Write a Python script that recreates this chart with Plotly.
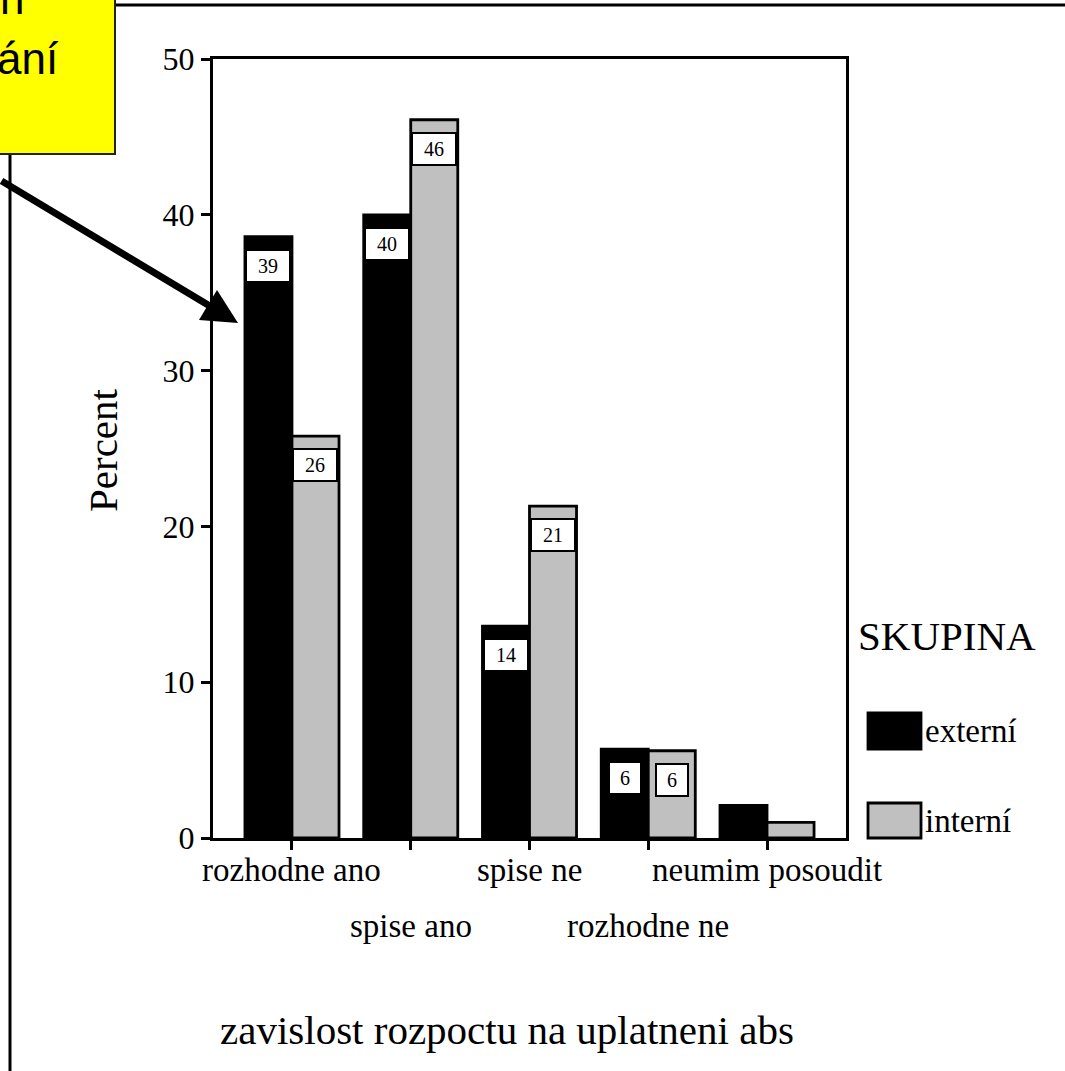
import plotly.graph_objects as go

# Response categories and group percentages
categories = ["rozhodne ano", "spise ano", "spise ne", "rozhodne ne", "neumim posoudit"]
groups = ["externí", "interní"]
externi = [38.6, 40.0, 13.6, 5.7, 2.1]
interni = [25.8, 46.1, 21.3, 5.6, 1.0]
labelled = [[True, True, True, True, False], [True, True, True, True, False]]
y_ticks = [0, 10, 20, 30, 40, 50]

W, H = 1065, 1071
L, R, T, B = 213, 219, 59, 233
PW, PH = W - L - R, H - T - B

def px(xp):
    return (xp - L) / PW

def py(yp):
    return (H - B - yp) / PH

SERIF = "Liberation Serif, Times New Roman, serif"
SANS = "Liberation Sans, Arial, sans-serif"
colors = ["#000000", "#c0c0c0"]
bargap = 0.208
half = (1 - bargap) / 4

fig = go.Figure()
xs = list(range(len(categories)))
for name, vals, col in zip(groups, [externi, interni], colors):
    fig.add_trace(go.Bar(
        x=xs, y=vals, name=name,
        marker=dict(color=col, line=dict(color="#000000", width=2.8)),
        showlegend=False,
    ))

annotations = []
# value boxes near the top of each bar
for gi, vals in enumerate([externi, interni]):
    off = -half if gi == 0 else half
    for i, v in enumerate(vals):
        if not labelled[gi][i]:
            continue
        txt = f"{v:.0f}"
        annotations.append(dict(
            x=i + off, y=v, xref="x", yref="y", yshift=-29,
            text=txt, showarrow=False,
            font=dict(family=SERIF, size=20, color="#000000"),
            bgcolor="#ffffff", bordercolor="#000000", borderwidth=2,
            borderpad=2, width=38 if len(txt) > 1 else 26, height=26,
            xanchor="center", yanchor="middle",
        ))

# staggered category labels
for i, c in enumerate(categories):
    annotations.append(dict(
        x=i, y=0, xref="x", yref="paper",
        yshift=-32 if i % 2 == 0 else -88,
        text=c, showarrow=False,
        font=dict(family=SERIF, size=33, color="#000000"),
        xanchor="center", yanchor="middle",
    ))

# axis titles
annotations.append(dict(
    x=px(507), y=py(1030), xref="paper", yref="paper",
    text="zavislost rozpoctu na uplatneni abs", showarrow=False,
    font=dict(family=SERIF, size=41, color="#000000"),
    xanchor="center", yanchor="middle",
))
annotations.append(dict(
    x=px(103), y=py(450), xref="paper", yref="paper",
    text="Percent", textangle=-90, showarrow=False,
    font=dict(family=SERIF, size=41, color="#000000"),
    xanchor="center", yanchor="middle",
))

# legend
annotations.append(dict(
    x=px(856), y=py(636), xref="paper", yref="paper",
    text="SKUPINA", showarrow=False,
    font=dict(family=SERIF, size=41, color="#000000"),
    xanchor="left", yanchor="middle",
))
shapes = []
legend_rows = [(713, 749), (803, 838)]
for name, col, (y0, y1) in zip(groups, colors, legend_rows):
    shapes.append(dict(
        type="rect", xref="paper", yref="paper",
        x0=px(868), x1=px(921), y0=py(y1), y1=py(y0),
        fillcolor=col, line=dict(color="#000000", width=2.8),
    ))
    annotations.append(dict(
        x=px(923), y=py((y0 + y1) / 2), xref="paper", yref="paper",
        text=name, showarrow=False,
        font=dict(family=SERIF, size=33, color="#000000"),
        xanchor="left", yanchor="middle",
    ))

# slide frame and the yellow callout
shapes.append(dict(type="line", xref="paper", yref="paper",
                   x0=px(115), x1=px(1080), y0=py(5), y1=py(5),
                   line=dict(color="#000000", width=3)))
shapes.append(dict(type="line", xref="paper", yref="paper",
                   x0=px(10), x1=px(10), y0=py(154), y1=py(1090),
                   line=dict(color="#000000", width=3)))
shapes.append(dict(type="rect", xref="paper", yref="paper",
                   x0=px(-20), x1=px(115), y0=py(154), y1=py(-20),
                   fillcolor="#ffff00", line=dict(color="#222222", width=2)))
annotations.append(dict(
    x=px(61), y=py(58), xref="paper", yref="paper",
    text="ání", showarrow=False,
    font=dict(family=SANS, size=44, color="#000000"),
    xanchor="right", yanchor="middle",
))
annotations.append(dict(
    x=px(26), y=py(-2), xref="paper", yref="paper",
    text="n", showarrow=False,
    font=dict(family=SANS, size=44, color="#000000"),
    xanchor="right", yanchor="middle",
))
# arrow from the callout to the first bar
annotations.append(dict(
    x=px(238), y=py(323), xref="paper", yref="paper",
    ax=-245, ay=-143, axref="pixel", ayref="pixel",
    text="", showarrow=True, arrowhead=2, arrowsize=1,
    arrowwidth=7, arrowcolor="#000000",
))

fig.update_layout(
    width=W, height=H,
    margin=dict(l=L, r=R, t=T, b=B, autoexpand=False),
    paper_bgcolor="#ffffff", plot_bgcolor="#ffffff",
    barmode="group", bargap=bargap, bargroupgap=0,
    showlegend=False,
    annotations=annotations, shapes=shapes,
    xaxis=dict(
        range=[-0.665, 4.665], tickvals=xs, showticklabels=False,
        ticks="outside", ticklen=9, tickwidth=3, tickcolor="#000000",
        showline=True, linewidth=3, linecolor="#000000", mirror=True,
        showgrid=False, zeroline=False, fixedrange=True,
    ),
    yaxis=dict(
        range=[0, 50], tickvals=y_ticks,
        ticks="outside", ticklen=9, tickwidth=3, tickcolor="#000000",
        tickfont=dict(family=SERIF, size=32, color="#000000"),
        showline=True, linewidth=3, linecolor="#000000", mirror=True,
        showgrid=False, zeroline=False, fixedrange=True,
    ),
)

fig.write_html("out.html")
